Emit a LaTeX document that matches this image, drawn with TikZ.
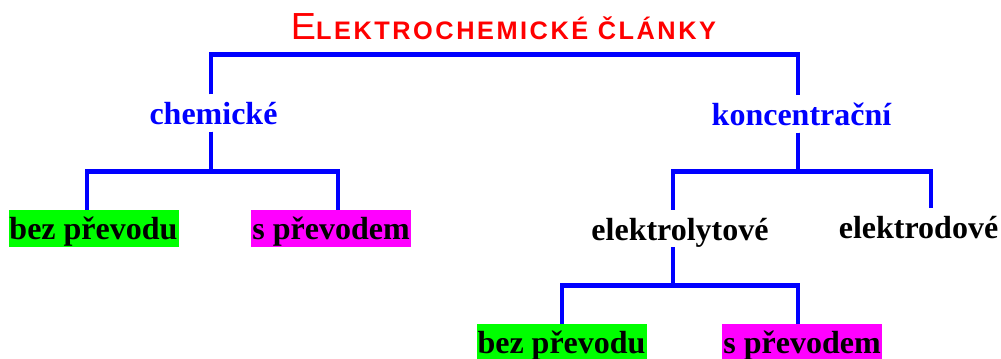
\documentclass[tikz,border=0pt]{standalone}
\usepackage{fontspec}
\setmainfont{Liberation Serif}
\newfontfamily\nadpisfont[LetterSpace=10]{Liberation Sans}
\usetikzlibrary{positioning}

\definecolor{modra}{RGB}{0,0,255}
\definecolor{zelena}{RGB}{0,255,0}
\definecolor{fialova}{RGB}{255,0,255}
\definecolor{cervena}{RGB}{255,0,0}

\begin{document}
\begin{tikzpicture}[
  x=0.75pt, y=-0.75pt,
  font=\bfseries\fontsize{24}{28}\selectfont,
  spoj/.style={draw=modra, line width=3.5pt, line join=miter},
  druh/.style={text=modra, inner sep=0pt, text height=22pt, text depth=5.5pt, anchor=base},
  typ/.style={inner sep=0pt, text height=22.5pt, text depth=5.25pt, anchor=base},
  list/.style={inner xsep=0.75pt, inner ysep=0pt, text height=21.75pt, text depth=6pt, anchor=base},
  bezbox/.style={list, fill=zelena},
  sbox/.style={list, fill=fialova}
]
  \useasboundingbox (0,0) rectangle (1001,358);

  % Nadpis
  \node[anchor=base, text=cervena, font=\nadpisfont\bfseries\fontsize{19}{24}\selectfont] (clanky) at (503.5,39)
    {{\mdseries\fontsize{28.3}{32}\selectfont E}LEKTROCHEMICKÉ ČLÁNKY};

  % Druhy článků
  \node[druh] (chem) at (213.5,124) {chemické};
  \node[druh] (konc) at (801.5,125) {koncentrační};

  % Chemické články
  \node[bezbox] (bez1) at (93.5,239) {bez převodu};
  \node[sbox] (s1) at (331,239) {s převodem};

  % Koncentrační články
  \node[typ] (elyt) at (680,240) {elektrolytové};
  \node[typ] (elod) at (918.5,238) {elektrodové};
  \node[bezbox] (bez2) at (561.5,353) {bez převodu};
  \node[sbox] (s2) at (802,353) {s převodem};

  % Horní větev
  \draw[spoj] ([xshift=-1.9pt]chem.north) -- ++(0,-40) -| ([xshift=-2.6pt]konc.north);

  % Větve pod chemickými
  \draw[spoj] ([xshift=-1.9pt]chem.south) -- ++(0,40) -| ([xshift=-4.9pt]bez1.north);
  \draw[spoj] ([xshift=-1.9pt]chem.south) -- ++(0,40) -| ([xshift=5.25pt]s1.north);

  % Větve pod koncentračními
  \draw[spoj] ([xshift=-2.6pt]konc.south) -- ++(0,39) -| ([xshift=-5.25pt]elyt.north);
  \draw[spoj] ([xshift=-2.6pt]konc.south) -- ++(0,39) -| ([xshift=9.4pt]elod.north);

  % Větve pod elektrolytovými
  \draw[spoj] ([xshift=-5.25pt]elyt.south) -- ++(0,38) -| ([xshift=0.4pt]bez2.north);
  \draw[spoj] ([xshift=-5.25pt]elyt.south) -- ++(0,38) -| ([xshift=-3pt]s2.north);

\end{tikzpicture}
\end{document}
